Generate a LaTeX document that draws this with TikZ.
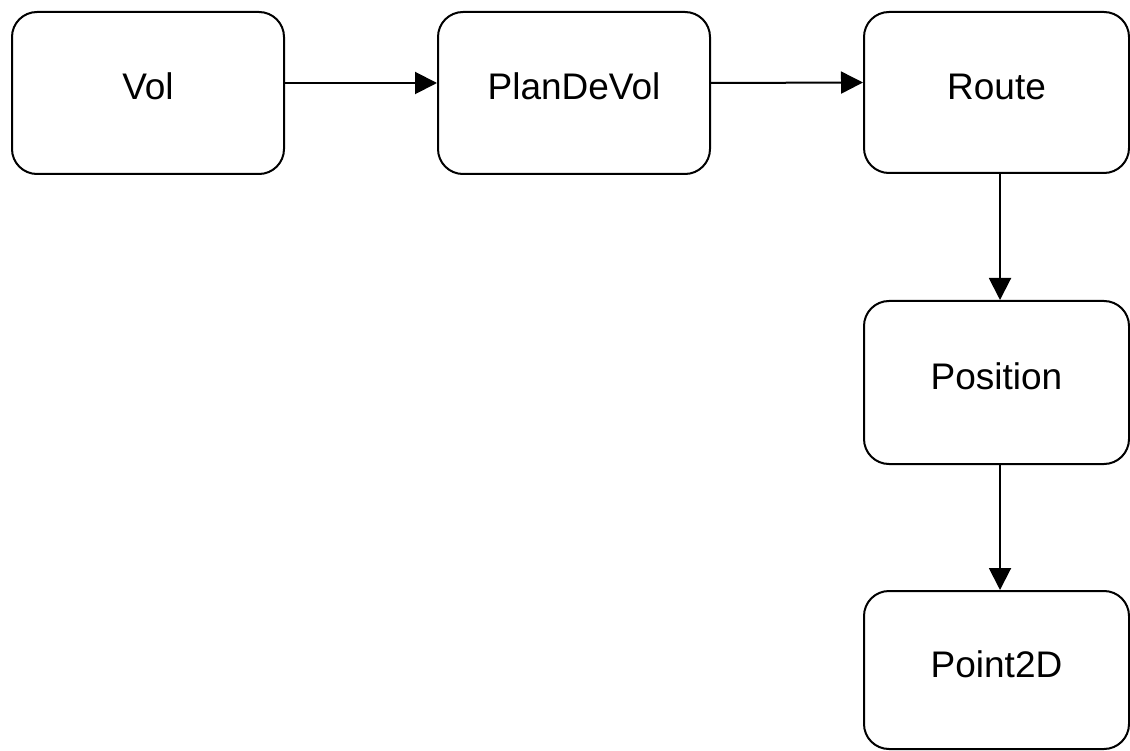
\documentclass[tikz,border=0pt]{standalone}
\usepackage{fontspec}
\setmainfont{Liberation Sans}
\usetikzlibrary{arrows.meta}
\tikzset{
  classbox/.style = {draw, line width = 2, rounded corners = 25, inner sep = 0,
    text height = 27, text depth = 13, font = \fontsize{37}{44}\selectfont},
  link/.style = {line width = 2, -{Triangle[length = 22, width = 22]}}
}
\begin{document}
\begin{tikzpicture}[x = 1pt, y = -1pt]
\useasboundingbox (0, 0) rectangle (1130, 751);

\node [classbox, minimum width = 272, minimum height = 162] (vol) at (148, 93) {Vol};
\node [classbox, minimum width = 272, minimum height = 162] (plan) at (574, 93) {PlanDeVol};
\node [classbox, minimum width = 265, minimum height = 161] (route) at (996.5, 92.5) {Route};
\node [classbox, minimum width = 265, minimum height = 163] (position) at (996.5, 382.5) {Position};
\node [classbox, minimum width = 265, minimum height = 158] (point) at (996.5, 670) {Point2D};

\draw [link] ([yshift = 10]vol.east) -- ([yshift = 10]plan.west);
\draw [link] ([yshift = 10]plan.east) -- ([yshift = 10]route.west);

\draw [link] ([xshift = 3.5]route.south) -- ([xshift = 3.5]position.north);
\draw [link] ([xshift = 3.5]position.south) -- ([xshift = 3.5]point.north);
\end{tikzpicture}
\end{document}
